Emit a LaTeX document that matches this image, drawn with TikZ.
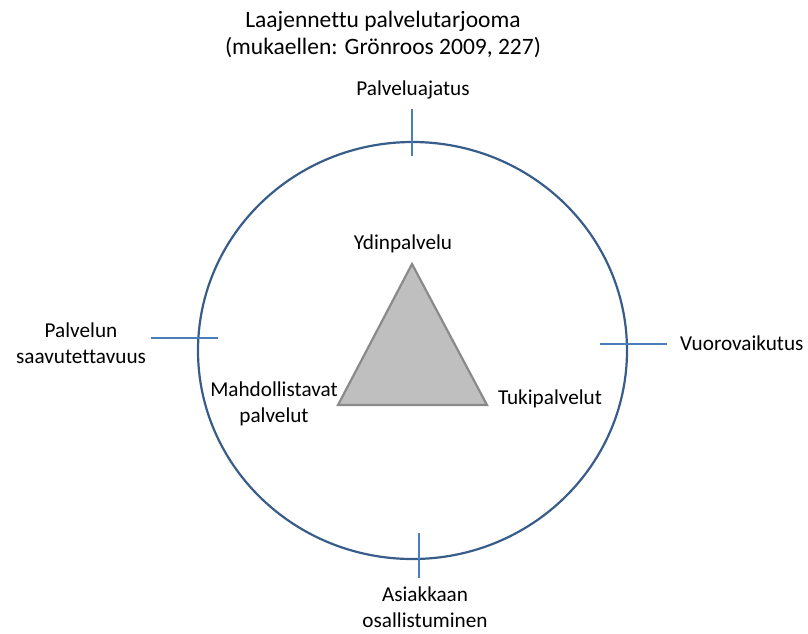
\documentclass[tikz,border=0pt]{standalone}
\usepackage{fontspec}
\setmainfont{Carlito}[Ligatures=NoCommon]
\usetikzlibrary{shapes.geometric}
\definecolor{ringblue}{HTML}{385D8A}
\definecolor{tickblue}{HTML}{4A7EBB}
\definecolor{trigray}{HTML}{8A8A8A}
\definecolor{trifill}{HTML}{BFBFBF}
\begin{document}
\begin{tikzpicture}[x=1pt,y=-1pt,
  lbl/.style={font=\fontsize{21.2}{26}\selectfont, inner sep=0pt, align=center, anchor=base},
  ttl/.style={font=\fontsize{23.5}{27}\selectfont, inner sep=0pt, align=center, anchor=base},
  ring/.style={draw=ringblue, line width=2.2pt, ellipse, inner sep=0pt},
  tickline/.style={draw=tickblue, line width=2.6pt},
  tri/.style={draw=trigray, fill=trifill, line width=2.2pt, line join=miter}]
\useasboundingbox (0,0) rectangle (808,633);
% ring
\node[ring, minimum width=429pt, minimum height=417pt] (ring) at (412.5,350.5) {};
% ticks
\coordinate (topA) at (412,109);
\coordinate (topB) at (412,156);
\coordinate (leftA) at (151,338);
\coordinate (leftB) at (218,338);
\coordinate (rightA) at (600,344);
\coordinate (rightB) at (667,344);
\coordinate (botA) at (419,533);
\coordinate (botB) at (419,578);
\draw[tickline] (topA) -- (topB);
\draw[tickline] (leftA) -- (leftB);
\draw[tickline] (rightA) -- (rightB);
\draw[tickline] (botA) -- (botB);
% triangle
\coordinate (apex) at (412,264);
\coordinate (bl) at (338,405);
\coordinate (br) at (487,405);
\draw[tri] (apex) -- (bl) -- (br) -- cycle;
% labels (base anchor = last line's baseline)
\node[ttl] (title) at (383,54) {Laajennettu palvelutarjooma\\(mukaellen: Grönroos 2009, 227)};
\node[lbl] (ajatus) at (413,95) {Palveluajatus};
\node[lbl] (ydin) at (403,249) {Ydinpalvelu};
\node[lbl] (saav) at (81,363) {Palvelun\\saavutettavuus};
\node[lbl, anchor=base west] (vuoro) at (680,350) {Vuorovaikutus};
\node[lbl] (mahd) at (274,422) {Mahdollistavat\\palvelut};
\node[lbl] (tuki) at (550,404) {Tukipalvelut};
\node[lbl] (asiak) at (425,627) {Asiakkaan\\osallistuminen};
\end{tikzpicture}
\end{document}
